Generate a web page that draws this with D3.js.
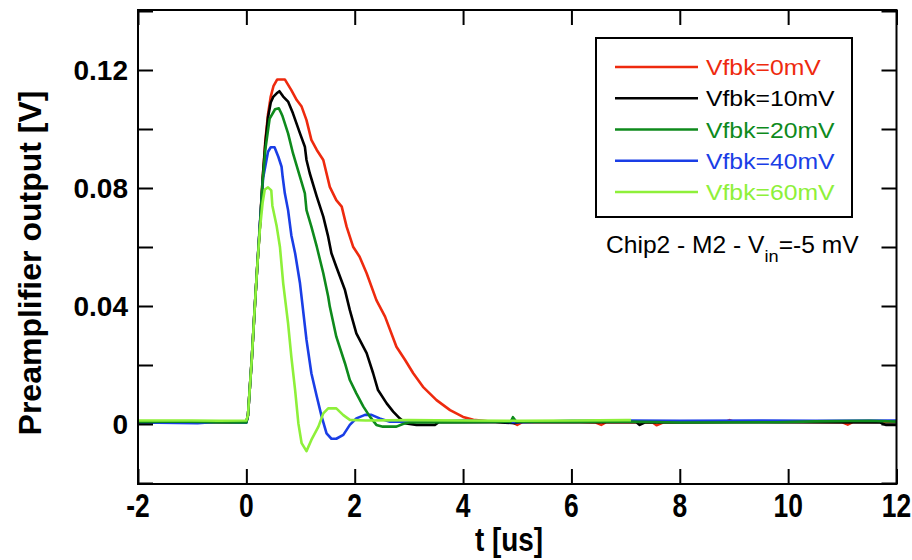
<!DOCTYPE html>
<html>
<head>
<meta charset="utf-8">
<script src="https://cdn.jsdelivr.net/npm/d3@7"></script>
<style>
  html, body { margin: 0; padding: 0; background: #fff; }
  svg { display: block; font-family: "Liberation Sans", Arial, Helvetica, sans-serif; }
</style>
</head>
<body>
<svg id="chart" width="912" height="560"></svg>
<script>
// Preamplifier pulse response for several feedback voltages (time in us, output in V)
const seriesLabels = ["Vfbk=0mV", "Vfbk=10mV", "Vfbk=20mV", "Vfbk=40mV", "Vfbk=60mV"];
const seriesColors = ["#ee2a0e", "#000000", "#0e8a1c", "#1a3ee6", "#8ef03a"];

const vfbk0 = [
  [-2, 0.0007], [-1.2, 0.0005], [-1.0, 0.0008], [-0.3, 0.0006], [0, 0.0007],
  [0.03, 0.003], [0.1, 0.022], [0.15, 0.038], [0.2, 0.053], [0.25, 0.067], [0.3, 0.083],
  [0.35, 0.096], [0.4, 0.105], [0.45, 0.111], [0.5, 0.1145], [0.57, 0.1168], [0.71, 0.1168],
  [0.83, 0.1132], [0.93, 0.1098], [1.02, 0.1076], [1.11, 0.103], [1.2, 0.0963], [1.3, 0.0929],
  [1.42, 0.0895], [1.54, 0.0804], [1.66, 0.0759], [1.76, 0.0737], [1.85, 0.0669], [1.97, 0.0601],
  [2.09, 0.0567], [2.22, 0.0511], [2.4, 0.042], [2.56, 0.0364], [2.77, 0.0262], [2.93, 0.0217],
  [3.08, 0.0172], [3.26, 0.0126], [3.51, 0.0081], [3.76, 0.0047], [4.0, 0.0024], [4.19, 0.0014],
  [4.5, 0.0008], [4.9, 0.0007], [5.0, -0.0003], [5.1, 0.0007], [6.0, 0.0008], [6.45, 0.0005],
  [6.55, -0.0003], [6.65, 0.0007], [7.5, 0.0005], [7.57, -0.0004], [7.7, 0.0006], [8.85, 0.0008],
  [8.92, 0.0013], [9.0, 0.0008], [11.0, 0.0006], [11.1, -0.0002], [11.2, 0.0007], [12, 0.0007]
];

const vfbk10 = [
  [-2, 0.0005], [-0.8, 0.0004], [-0.7, 0.0007], [0, 0.0006],
  [0.03, 0.003], [0.1, 0.022], [0.15, 0.038], [0.2, 0.053], [0.25, 0.067], [0.3, 0.083],
  [0.35, 0.095], [0.4, 0.104], [0.45, 0.109], [0.5, 0.111], [0.56, 0.1121], [0.61, 0.1128],
  [0.68, 0.111], [0.77, 0.1093], [0.86, 0.1053], [0.99, 0.0985], [1.08, 0.094], [1.11, 0.0895],
  [1.17, 0.085], [1.3, 0.0771], [1.42, 0.0703], [1.51, 0.0635], [1.57, 0.0579], [1.66, 0.0533],
  [1.82, 0.0454], [1.91, 0.0386], [2.03, 0.0307], [2.22, 0.024], [2.34, 0.0172], [2.43, 0.0115],
  [2.59, 0.007], [2.71, 0.0042], [2.83, 0.0019], [2.95, 0.0002], [3.14, -0.0003], [3.48, -0.0003],
  [3.55, 0.0006], [4.5, 0.0007], [4.95, 0.0003], [5.05, 0.0007], [7.2, 0.0006], [7.26, -0.0003],
  [7.35, 0.0005], [9.0, 0.0006], [11.7, 0.0005], [11.8, -0.0003], [12, -0.0003]
];

const vfbk20 = [
  [-2, 0.0006], [-1.3, 0.0009], [-0.6, 0.0006], [0, 0.0005],
  [0.03, 0.003], [0.1, 0.022], [0.15, 0.038], [0.2, 0.053], [0.25, 0.067], [0.3, 0.082],
  [0.35, 0.093], [0.43, 0.1035], [0.53, 0.1067], [0.6, 0.107], [0.64, 0.1055], [0.67, 0.1042],
  [0.77, 0.0985], [0.86, 0.0918], [0.99, 0.0838], [1.08, 0.0782], [1.11, 0.0725], [1.2, 0.0669],
  [1.3, 0.0601], [1.36, 0.0556], [1.42, 0.0511], [1.51, 0.0432], [1.54, 0.0398], [1.66, 0.0296],
  [1.82, 0.0206], [1.91, 0.0149], [2.03, 0.0104], [2.16, 0.0059], [2.28, 0.0025], [2.4, -0.0003],
  [2.52, -0.0009], [2.77, -0.0009], [2.89, 0.0], [3.0, 0.0005], [4.0, 0.0006], [4.88, 0.0008],
  [4.92, 0.0023], [4.98, 0.0008], [6.0, 0.0007], [7.0, 0.0008], [8.0, 0.0005], [9.8, 0.0006],
  [10.5, 0.0009], [11.5, 0.0011], [12, 0.0008]
];

const vfbk40 = [
  [-2, 0.0005], [-0.9, 0.0003], [-0.5, 0.0008], [0, 0.0004],
  [0.03, 0.003], [0.1, 0.022], [0.15, 0.038], [0.2, 0.053], [0.25, 0.068], [0.31, 0.0835],
  [0.4, 0.0923], [0.45, 0.0938], [0.52, 0.0938], [0.59, 0.0906], [0.65, 0.0872], [0.67, 0.0838],
  [0.71, 0.0782], [0.77, 0.0725], [0.83, 0.064], [0.9, 0.0579], [0.99, 0.0477], [1.11, 0.0285],
  [1.2, 0.0172], [1.3, 0.0093], [1.39, 0.0025], [1.48, -0.0032], [1.57, -0.0050], [1.66, -0.0050],
  [1.79, -0.0037], [1.91, -0.0003], [2.03, 0.0019], [2.19, 0.0031], [2.31, 0.0031], [2.46, 0.0019],
  [2.65, 0.0008], [3.5, 0.0008], [4.0, 0.0012], [5.0, 0.0006], [6.0, 0.0011], [7.0, 0.0012],
  [8.0, 0.0011], [9.5, 0.0012], [10.5, 0.0011], [12, 0.0012]
];

const vfbk60 = [
  [-2, 0.0012], [-1.0, 0.0012], [-0.5, 0.0011], [0, 0.0012],
  [0.03, 0.003], [0.1, 0.022], [0.15, 0.038], [0.2, 0.053], [0.25, 0.066], [0.3, 0.075],
  [0.34, 0.0795], [0.4, 0.0802], [0.46, 0.0792], [0.48, 0.074], [0.56, 0.067], [0.62, 0.0600],
  [0.68, 0.0477], [0.77, 0.0341], [0.83, 0.0228], [0.9, 0.0115], [0.96, 0.0002], [1.02, -0.0065],
  [1.11, -0.0092], [1.2, -0.0054], [1.33, -0.0009], [1.42, 0.0036], [1.51, 0.0053], [1.66, 0.0053],
  [1.79, 0.003], [1.91, 0.0014], [2.2, 0.0012], [3.0, 0.0013], [4.0, 0.0012], [5.0, 0.0011],
  [6.0, 0.0012], [7.0, 0.0013], [7.1, 0.0013]
];

const seriesData = [vfbk0, vfbk10, vfbk20, vfbk40, vfbk60];

const xTicks = [-2, 0, 2, 4, 6, 8, 10, 12];
const yTicks = [-0.02, 0, 0.02, 0.04, 0.06, 0.08, 0.10, 0.12, 0.14];
const yTickLabels = { "0": "0", "0.04": "0.04", "0.08": "0.08", "0.12": "0.12" };

const xTitle = "t [us]";
const yTitle = "Preamplifier output [V]";

// ---- layout
const svg = d3.select("#chart");
const plotLeft = 138, plotRight = 896.5, plotTop = 10, plotBottom = 484;

const x = d3.scaleLinear().domain([-2, 12]).range([plotLeft, plotRight]);
const y = d3.scaleLinear().domain([-0.02034, 0.14034]).range([plotBottom, plotTop]);

svg.append("defs").append("clipPath").attr("id", "plotclip")
  .append("rect").attr("x", plotLeft).attr("y", plotTop)
  .attr("width", plotRight - plotLeft).attr("height", plotBottom - plotTop);

// ---- curves
const line = d3.line().x(d => x(d[0])).y(d => y(d[1]));
const curves = svg.append("g").attr("clip-path", "url(#plotclip)");
const drawOrder = [0, 1, 3, 2, 4];
drawOrder.forEach(i => {
  curves.append("path")
    .datum(seriesData[i])
    .attr("d", line)
    .attr("fill", "none")
    .attr("stroke", seriesColors[i])
    .attr("stroke-width", 2.6)
    .attr("stroke-linejoin", "round");
});

// ---- axes: ticks pointing inward on all four sides
const tickLen = 15;
const axisBottom = d3.axisBottom(x).tickValues(xTicks).tickSize(-tickLen).tickFormat("");
const axisTop = d3.axisTop(x).tickValues(xTicks).tickSize(-tickLen).tickFormat("");
const axisLeft = d3.axisLeft(y).tickValues(yTicks).tickSize(-tickLen).tickFormat("");
const axisRight = d3.axisRight(y).tickValues(yTicks).tickSize(-tickLen).tickFormat("");

function styleAxis(g) {
  g.select(".domain").remove();
  g.selectAll(".tick line").attr("stroke", "#000").attr("stroke-width", 2);
}
svg.append("g").attr("transform", `translate(0,${plotBottom})`).call(axisBottom).call(styleAxis);
svg.append("g").attr("transform", `translate(0,${plotTop})`).call(axisTop).call(styleAxis);
svg.append("g").attr("transform", `translate(${plotLeft},0)`).call(axisLeft).call(styleAxis);
svg.append("g").attr("transform", `translate(${plotRight},0)`).call(axisRight).call(styleAxis);

svg.append("rect")
  .attr("x", plotLeft).attr("y", plotTop)
  .attr("width", plotRight - plotLeft).attr("height", plotBottom - plotTop)
  .attr("fill", "none").attr("stroke", "#000").attr("stroke-width", 2);

// ---- tick labels
svg.append("g").selectAll("text")
  .data(xTicks)
  .join("text")
  .attr("transform", d => `translate(${x(d)},517) scale(0.8,1)`)
  .attr("text-anchor", "middle")
  .attr("font-size", 33)
  .attr("font-weight", "bold")
  .text(d => d);

svg.append("g").selectAll("text")
  .data(yTicks.filter(d => yTickLabels[String(+d.toFixed(2))] !== undefined))
  .join("text")
  .attr("x", 128)
  .attr("y", d => y(d) + 10)
  .attr("text-anchor", "end")
  .attr("font-size", 28)
  .attr("font-weight", "bold")
  .text(d => yTickLabels[String(+d.toFixed(2))]);

// ---- axis titles
svg.append("text")
  .attr("transform", `translate(509,551) scale(0.82,1)`)
  .attr("text-anchor", "middle")
  .attr("font-size", 34)
  .attr("font-weight", "bold")
  .text(xTitle);

svg.append("text")
  .attr("transform", `translate(41,263) rotate(-90)`)
  .attr("text-anchor", "middle")
  .attr("font-size", 32)
  .attr("font-weight", "bold")
  .text(yTitle);

// ---- legend
const legend = svg.append("g");
legend.append("rect")
  .attr("x", 596).attr("y", 38).attr("width", 256).attr("height", 179)
  .attr("fill", "#fff").attr("stroke", "#000").attr("stroke-width", 2);
const rowY = d3.scalePoint().domain(d3.range(seriesLabels.length)).range([67, 192]);
seriesLabels.forEach((lab, i) => {
  legend.append("line")
    .attr("x1", 615).attr("x2", 698)
    .attr("y1", rowY(i)).attr("y2", rowY(i))
    .attr("stroke", seriesColors[i]).attr("stroke-width", 2.4);
  legend.append("text")
    .attr("transform", `translate(706,${rowY(i) + 8}) scale(1.1,1)`)
    .attr("font-size", 22.5)
    .attr("fill", seriesColors[i])
    .text(lab);
});

// ---- run annotation
const note = svg.append("text")
  .attr("transform", "translate(606,253) scale(1.07,1)")
  .attr("font-size", 23)
  .attr("fill", "#000");
note.append("tspan").text("Chip2 - M2 - V");
note.append("tspan").attr("dy", 9).attr("font-size", 17).text("in");
note.append("tspan").attr("dy", -9).text("=-5 mV");
</script>
</body>
</html>
